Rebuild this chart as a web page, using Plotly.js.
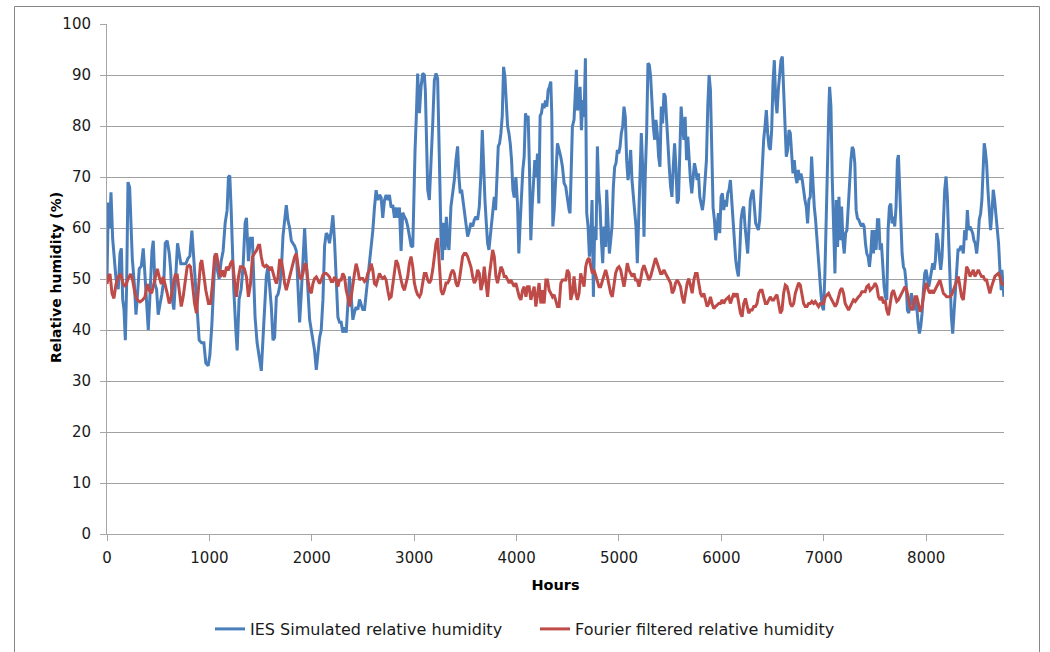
<!DOCTYPE html>
<html>
<head>
<meta charset="utf-8">
<script src="https://cdn.plot.ly/plotly-3.0.1.min.js"></script>
<style>
  html, body { margin: 0; padding: 0; background: #ffffff; }
  #chart { width: 1050px; height: 652px; }
</style>
</head>
<body>
<div id="chart"></div>
<script>
// ---- data (hour, relative humidity %) ----
const seriesNames = ["IES Simulated relative humidity", "Fourier filtered relative humidity"];
const xTickValues = [0, 1000, 2000, 3000, 4000, 5000, 6000, 7000, 8000];
const yTickValues = [0, 10, 20, 30, 40, 50, 60, 70, 80, 90, 100];
const xTitle = "Hours";
const yTitle = "Relative humidity (%)";

const iesSimulatedRH = [
  [0,50],[13,65],[26,60],[39,67],[55,58],[68,54],[88,50],[110,48],[127,55],[140,56],
  [153,46],[166,44],[179,38],[192,49],[205,69],[221,68],[234,60],[247,54],[267,49],[283,43],
  [296,46.5],[315,52],[335,52.5],[354,56],[367,52],[387,46],[403,40],[419,46.5],[439,55.5],[452,57.5],
  [468,49],[484,48],[500,43],[517,45],[536,47],[556,50],[569,57],[588,57.5],[608,55],[621,52],
  [634,46.5],[653,44],[673,50],[689,57],[705,55],[721,53],[744,53],[770,53],[790,54],[809,54.5],
  [829,59.5],[842,56],[858,50],[881,44],[900,38],[923,37.5],[946,37.5],[965,33.5],[988,33],[1004,35],
  [1024,41],[1037,48],[1056,55],[1076,52],[1095,50],[1115,53.5],[1134,55.5],[1154,61],[1173,63.5],[1186,70],
  [1199,70.3],[1212,64],[1225,55.5],[1238,48],[1258,40],[1271,36],[1290,46],[1310,48],[1329,52.5],[1349,61],
  [1362,62],[1381,53.5],[1401,58],[1420,58],[1433,50],[1446,42.5],[1466,37.5],[1491,33.5],[1507,32],[1524,38.5],
  [1540,44.5],[1556,50.5],[1572,52.5],[1589,49],[1605,44.5],[1621,38],[1637,38.5],[1654,46.5],[1670,47],[1686,48.5],
  [1702,51.5],[1719,58.5],[1735,61.5],[1751,64.5],[1767,61.5],[1784,60],[1800,57.5],[1816,57],[1832,56.5],[1849,55.5],
  [1865,48],[1881,41.5],[1897,47],[1914,54.5],[1930,60],[1946,53.5],[1962,46.5],[1979,42],[1995,40],[2011,38],
  [2027,36],[2044,32.2],[2060,35.5],[2076,38.5],[2092,40],[2109,46],[2125,56.5],[2141,59],[2157,58.5],[2173,57],
  [2190,59.5],[2206,62.5],[2222,57.5],[2238,49],[2255,42.5],[2271,41.5],[2287,41.5],[2303,39.5],[2320,40.5],[2336,39.5],
  [2352,44.5],[2368,50.5],[2385,46.5],[2401,42],[2417,43.5],[2433,44.5],[2450,44],[2466,46],[2482,45],[2498,44],
  [2515,44],[2531,47],[2547,50.5],[2563,52.5],[2580,55.5],[2596,59.5],[2612,64],[2628,67.4],[2645,65.5],[2661,66.5],
  [2677,66],[2693,62],[2710,65.5],[2726,66.5],[2742,65.5],[2758,66.5],[2775,64],[2791,64.5],[2807,62],[2823,64],
  [2840,62],[2856,64],[2872,55.5],[2888,63],[2905,62.2],[2921,61.6],[2937,60.3],[2953,58.3],[2970,56.5],[2986,56.3],
  [2995,66],[3008,75],[3021,82],[3034,90.3],[3051,82.5],[3067,87.7],[3083,90.3],[3099,90],[3109,87],[3119,78.5],
  [3132,67.5],[3148,65.5],[3164,72],[3181,80.5],[3197,89],[3213,90.3],[3229,89.3],[3239,80],[3249,69],[3262,58.3],
  [3275,53.7],[3288,61],[3301,55.7],[3314,62.2],[3327,57],[3340,55.7],[3359,64.2],[3376,66.8],[3392,69.4],[3408,73.3],
  [3424,76],[3437,70],[3450,66.8],[3463,67.5],[3476,65.5],[3489,64.2],[3506,61],[3522,58.3],[3538,59.5],[3554,61],
  [3571,60.3],[3587,61.6],[3603,62.2],[3619,61.6],[3636,64.2],[3652,70.7],[3665,79.2],[3678,71.4],[3691,65.5],[3704,61],
  [3717,57],[3730,55.7],[3743,58.3],[3756,62.2],[3769,64.8],[3782,66.1],[3795,63.5],[3808,72],[3821,76],[3834,76.6],
  [3847,78.6],[3860,82],[3873,91.6],[3886,89.7],[3899,85],[3912,80],[3925,78.6],[3938,76.6],[3951,73.3],[3964,67.5],
  [3977,66],[3993,70],[4009,64.8],[4022,55],[4035,61],[4048,66.8],[4061,71.4],[4074,74],[4087,82.5],[4100,81.2],
  [4113,82],[4126,71.4],[4139,57.6],[4152,64.2],[4165,69.4],[4178,73.3],[4191,70],[4204,74.6],[4217,64.8],[4230,82],
  [4243,82.5],[4256,84.4],[4269,83.5],[4282,85],[4295,83.8],[4308,87],[4321,87.7],[4334,88.7],[4344,82],[4354,60.3],
  [4367,63.5],[4383,70],[4399,76.6],[4415,75.3],[4431,74],[4448,72],[4464,68.8],[4480,68.1],[4496,65.5],[4513,63.5],
  [4522,62.9],[4535,72],[4545,79.9],[4561,81.2],[4574,87.1],[4584,91],[4594,83.1],[4607,83.8],[4620,87.7],[4633,79.2],
  [4646,85.1],[4659,81.8],[4672,93.3],[4678,77.3],[4685,62.9],[4698,60.3],[4711,54.4],[4724,57.6],[4737,65.5],[4750,46.5],
  [4763,60.3],[4776,57.6],[4789,76],[4802,67.5],[4815,64.2],[4828,57.6],[4841,53.1],[4854,60.3],[4870,56.3],[4880,67.5],
  [4893,59.6],[4906,55],[4919,57.6],[4932,60.3],[4945,68.1],[4958,72],[4971,72.7],[4984,75.3],[4997,74.6],[5010,75.9],
  [5023,78.6],[5036,79.9],[5049,83.8],[5062,81.8],[5075,73.3],[5088,69.4],[5101,72],[5114,75.3],[5127,69.4],[5140,66.8],
  [5153,62.9],[5166,60.3],[5179,53.1],[5192,61.6],[5205,66.1],[5218,78.6],[5231,72],[5244,58.3],[5257,70.7],[5270,78.6],
  [5283,92.3],[5296,92],[5309,89.7],[5322,83.8],[5335,79.9],[5348,77.3],[5361,81.2],[5374,78.6],[5387,74],[5400,72],
  [5413,83.8],[5426,80.5],[5439,86.4],[5452,85.8],[5465,80.5],[5478,75.3],[5491,72],[5504,68.1],[5517,66.1],[5530,72],
  [5543,76.6],[5556,72],[5569,64.8],[5581,65.5],[5594,73.3],[5607,83.8],[5620,79.9],[5634,77.3],[5646,81.8],[5660,73.3],
  [5672,77.9],[5686,72.7],[5698,69.4],[5711,66.8],[5724,69.4],[5737,72.7],[5750,71.4],[5763,69.4],[5776,70.7],[5789,66.1],
  [5802,64.8],[5815,63.5],[5828,65.5],[5841,70.7],[5854,73.3],[5867,83.8],[5880,90],[5893,87.1],[5906,77.3],[5919,64],
  [5932,61.6],[5945,57.6],[5958,60.3],[5971,62.9],[5984,59],[5997,66.1],[6010,66.8],[6023,63.5],[6036,65.5],[6049,64.2],
  [6062,66.8],[6075,67.5],[6088,69.4],[6101,65.5],[6114,60.3],[6127,56.3],[6140,53.7],[6153,51.8],[6166,50.5],[6179,55],
  [6192,61.6],[6205,63.5],[6218,64.2],[6231,60.3],[6244,57.6],[6257,55],[6270,60.3],[6283,65.5],[6296,66.8],[6309,67.5],
  [6322,64.2],[6335,60.9],[6348,60.3],[6361,59.6],[6374,61.6],[6387,67.5],[6400,74],[6413,77.3],[6426,79.9],[6439,83.1],
  [6452,78.6],[6465,75.9],[6478,75.3],[6491,79.2],[6504,88.4],[6517,92.9],[6530,85.1],[6543,82.5],[6556,87.1],[6569,90.3],
  [6582,92.9],[6595,93.6],[6608,87.7],[6621,80.5],[6634,74],[6647,75.3],[6660,79.2],[6673,78.6],[6686,74],[6699,70.7],
  [6712,73.3],[6725,70.1],[6738,68.8],[6751,71.4],[6764,69.4],[6777,70.7],[6790,69.4],[6803,66.8],[6816,65.5],[6829,64.2],
  [6842,60.9],[6855,65.5],[6868,66.1],[6881,74],[6894,68.1],[6907,64.2],[6920,61.6],[6933,57.6],[6946,54.4],[6959,51.1],
  [6972,47.2],[6985,44.6],[6998,43.9],[7011,51.1],[7024,64.2],[7037,75.3],[7050,83.8],[7057,87.7],[7070,83.8],[7083,69.4],
  [7096,59],[7109,51.1],[7122,65.5],[7135,56.3],[7148,66.1],[7161,57.6],[7174,64.2],[7187,57.6],[7200,55],[7213,59],
  [7226,59.6],[7239,64.2],[7252,70.7],[7265,73.3],[7278,75.9],[7290,75.3],[7303,72.7],[7316,63.5],[7329,61.9],[7342,61.6],
  [7355,60.9],[7368,60.3],[7381,60.9],[7394,60.3],[7407,57],[7420,55],[7433,54.4],[7446,52.4],[7459,55],[7472,59.6],
  [7485,55],[7498,59.6],[7511,55.7],[7524,61.6],[7537,61.6],[7550,55.7],[7563,57],[7576,51.8],[7589,48.5],[7602,46.5],
  [7615,45.9],[7628,59.6],[7641,64.2],[7654,64.8],[7667,60.9],[7680,62.2],[7693,60.3],[7706,64.2],[7719,73.3],[7729,74.3],
  [7739,69.4],[7752,62.9],[7765,55],[7778,52.4],[7791,51.8],[7804,49.2],[7817,43.9],[7830,43.3],[7843,45.2],[7856,47.2],
  [7869,45.2],[7882,43.9],[7895,46.5],[7908,44.6],[7921,41.3],[7934,39.3],[7947,40.7],[7960,43.3],[7973,47.8],[7986,51.1],
  [7999,51.8],[8012,50.5],[8025,48.5],[8038,49.8],[8051,51.8],[8064,53.1],[8077,51.8],[8090,53.7],[8103,59],[8116,57.6],
  [8129,54.4],[8142,51.8],[8155,54.4],[8168,60.9],[8181,67.5],[8194,70.1],[8207,66.1],[8220,57.6],[8233,47.8],[8246,42.6],
  [8259,39.3],[8272,43.9],[8285,48.5],[8298,51.1],[8311,55.7],[8324,55.7],[8337,56.3],[8350,56.3],[8363,55],[8376,59.6],
  [8389,57.6],[8402,63.5],[8415,59.6],[8428,60.3],[8441,59.6],[8454,59],[8466,57.6],[8479,57],[8493,55],[8506,57.6],
  [8518,61.6],[8532,62.9],[8544,65.5],[8558,72.7],[8567,76.6],[8577,75.3],[8590,72.7],[8603,67.5],[8616,62.9],[8629,59.6],
  [8642,62.9],[8655,67.5],[8668,65.5],[8681,62.2],[8694,59.6],[8707,57],[8720,51.8],[8733,47.8],[8740,51.8],[8759,46.5]
];

const fourierFilteredRH = [
  [0,49],[13,50.4],[29,51],[49,47.2],[68,46.2],[88,49],[110,50.4],[133,51],[159,49],[179,48.5],
  [205,50],[231,51],[250,49.8],[273,47.2],[296,45.9],[322,45.5],[348,45.9],[371,46.5],[393,49],[413,47.8],
  [436,47.2],[458,49],[478,51],[491,52],[510,50.4],[530,49],[549,50.4],[569,49],[588,47.2],[608,45.2],
  [627,46.5],[647,49],[666,50.8],[686,50.8],[705,47.8],[725,44.6],[744,46.5],[764,49.8],[783,52.4],[803,52.7],
  [816,52.4],[835,49],[855,45.2],[874,43.3],[894,47.8],[913,53],[926,53.7],[946,50.4],[965,47.8],[991,45.2],
  [1011,45.2],[1030,49],[1050,54.3],[1069,55],[1089,52.4],[1108,50.4],[1128,51.7],[1147,50.4],[1167,52.4],[1186,51.7],
  [1206,53],[1225,53.7],[1245,49.8],[1264,46.5],[1284,50.4],[1303,52.4],[1323,52.4],[1342,52],[1362,50.4],[1381,46.5],
  [1401,49],[1420,54.3],[1440,55],[1459,55.6],[1479,56.6],[1491,56.6],[1507,54.3],[1524,52.7],[1540,52.4],[1556,52.7],
  [1572,52.4],[1589,51.7],[1605,52.4],[1621,51.1],[1637,50.1],[1654,49.1],[1670,50.4],[1686,53.7],[1702,53.7],[1719,51.7],
  [1735,49.1],[1751,47.8],[1767,49.1],[1784,50.4],[1800,51.7],[1816,53],[1832,54.3],[1849,55],[1865,53],[1881,50.4],
  [1897,50.1],[1914,51.1],[1930,53],[1946,52.7],[1962,49.8],[1979,47.8],[1995,47.2],[2011,49.1],[2027,50.1],[2044,50.4],
  [2060,49.8],[2076,49.1],[2092,49.8],[2109,50.8],[2125,51.1],[2141,51.1],[2157,50.8],[2173,50.4],[2190,49.5],[2206,49.5],
  [2222,50.4],[2238,49.8],[2255,48.5],[2271,49.8],[2287,49.8],[2303,51.1],[2320,50.4],[2336,47.8],[2352,46.5],[2368,44.6],
  [2385,46.5],[2401,49.1],[2417,51.1],[2433,53],[2450,51.7],[2466,49.8],[2482,50.1],[2498,50.1],[2515,49.5],[2531,49.8],
  [2547,51.1],[2563,51.7],[2580,53],[2596,51.7],[2612,49.1],[2628,48.8],[2645,49.8],[2661,51.1],[2677,50.4],[2693,50.1],
  [2710,50.4],[2726,49.8],[2742,47.8],[2758,46.2],[2775,46.5],[2791,49.1],[2807,51.7],[2823,53.7],[2840,53],[2856,51.1],
  [2872,49.8],[2888,48.5],[2905,47.8],[2921,49.2],[2937,50.5],[2953,53.1],[2969,54.4],[2986,52.4],[3002,49.2],[3018,47.8],
  [3034,46.9],[3051,46.5],[3067,47.2],[3083,49.2],[3099,51.1],[3116,51.1],[3132,49.8],[3148,49.2],[3164,49.8],[3181,51.8],
  [3197,54.4],[3213,57],[3229,58],[3239,55],[3249,50.5],[3262,47.8],[3278,46.9],[3294,47.8],[3311,49.2],[3327,49.2],
  [3343,49.8],[3359,51.1],[3376,51.8],[3392,51.1],[3408,49.2],[3424,48.5],[3441,49.8],[3457,52.4],[3473,54.4],[3489,55],
  [3506,55],[3522,54.4],[3538,53.4],[3554,52.4],[3571,50.5],[3587,49.2],[3603,49.8],[3619,51.8],[3636,51.1],[3652,47.8],
  [3668,49.2],[3684,52.4],[3701,49.2],[3717,46.5],[3733,50.5],[3749,53.1],[3766,55.7],[3782,54.4],[3798,50.5],[3814,49.2],
  [3830,51.1],[3847,52.4],[3863,51.8],[3879,50.5],[3896,50.5],[3912,49.8],[3928,49.2],[3944,49.8],[3961,49.2],[3977,48.5],
  [3993,49.2],[4009,47.8],[4026,46.5],[4042,45.9],[4058,47.8],[4074,48.5],[4091,46.5],[4107,48.5],[4123,48.5],[4139,45.9],
  [4156,47.2],[4172,48.5],[4188,44.6],[4204,46.5],[4220,49.2],[4237,45.2],[4253,47.8],[4269,45.2],[4286,49.8],[4302,49.8],
  [4318,47.8],[4334,47.2],[4351,46.5],[4367,46.9],[4383,45.9],[4399,44.6],[4415,44.6],[4432,49.2],[4448,49.8],[4464,49.8],
  [4480,49.8],[4496,51.8],[4513,51.1],[4529,45.9],[4545,47.2],[4561,50.5],[4578,47.2],[4594,45.9],[4610,47.2],[4626,51.1],
  [4643,49.8],[4659,48.5],[4675,52.4],[4691,53.7],[4708,54.1],[4724,52.4],[4740,51.1],[4756,51.8],[4773,50.5],[4789,49.8],
  [4805,48.5],[4821,48.5],[4838,49.8],[4854,51.1],[4870,51.8],[4886,50.5],[4903,48.5],[4919,47.2],[4935,46.5],[4951,48.5],
  [4967,51.1],[4984,52.1],[5000,52.4],[5016,51.8],[5032,49.8],[5049,48.5],[5065,50.5],[5081,53.1],[5097,51.8],[5114,51.1],
  [5130,50.5],[5146,51.1],[5162,49.8],[5179,49.8],[5195,48.5],[5211,49.8],[5227,51.8],[5244,52.7],[5260,51.8],[5276,51.1],
  [5292,49.8],[5309,50.5],[5325,51.8],[5341,53.1],[5357,54.1],[5374,53.1],[5390,51.8],[5406,51.1],[5422,51.1],[5439,51.8],
  [5455,51.1],[5471,50.5],[5487,50.1],[5504,49.2],[5520,47.2],[5536,47.8],[5552,49.2],[5569,49.8],[5585,49.2],[5601,48.5],
  [5617,46.5],[5634,45.2],[5650,47.2],[5666,49.2],[5682,50.1],[5698,48.5],[5715,47.2],[5731,49.8],[5747,51.1],[5763,51.1],
  [5780,49.2],[5796,47.2],[5812,46.5],[5828,47.2],[5845,45.9],[5861,44.6],[5877,45.2],[5893,46.5],[5909,45.2],[5926,44.2],
  [5942,44.6],[5958,44.9],[5975,45.2],[5991,45.2],[6007,45.9],[6023,45.2],[6040,45.9],[6056,46.2],[6072,46.5],[6088,45.2],
  [6105,46.5],[6121,47.2],[6137,46.5],[6153,47.2],[6170,45.2],[6186,43.3],[6202,42.6],[6218,45.2],[6235,46.2],[6251,44.6],
  [6267,43.3],[6283,43.9],[6300,43.9],[6316,44.6],[6332,44.6],[6348,45.2],[6365,47.2],[6381,47.8],[6397,47.8],[6413,46.5],
  [6430,45.2],[6446,45.2],[6462,45.9],[6478,46.5],[6495,45.9],[6511,45.9],[6527,46.5],[6543,46.9],[6559,45.2],[6576,43.3],
  [6592,43.9],[6608,47.2],[6624,48.8],[6641,48.5],[6657,47.2],[6673,45.2],[6689,44.6],[6706,45.2],[6722,47.2],[6738,48.5],
  [6754,49.2],[6771,48.8],[6787,47.2],[6803,45.2],[6819,44.6],[6836,44.6],[6852,45.2],[6868,45.2],[6884,45.6],[6901,45.2],
  [6917,45.6],[6933,45.2],[6949,44.6],[6966,45.2],[6982,45.2],[6998,45.2],[7014,46.5],[7031,46.9],[7047,47.2],[7063,46.5],
  [7079,45.9],[7096,45.2],[7112,44.6],[7128,45.2],[7144,46.5],[7161,47.8],[7177,48.2],[7193,47.2],[7209,45.2],[7226,44.6],
  [7242,43.9],[7258,44.6],[7274,45.2],[7290,45.9],[7307,45.6],[7323,46.2],[7339,46.5],[7355,46.8],[7372,47.5],[7388,47.5],
  [7404,47.5],[7420,48.5],[7437,48.8],[7453,47.8],[7469,48.2],[7485,48.5],[7502,49.2],[7518,48.5],[7534,46.5],[7550,45.9],
  [7567,46.5],[7583,45.2],[7599,45.9],[7615,43.9],[7632,42.9],[7648,45.2],[7664,47.2],[7680,47.8],[7697,46.5],[7713,45.6],
  [7729,45.9],[7745,46.5],[7761,47.2],[7778,47.8],[7794,48.5],[7810,47.8],[7826,45.9],[7843,44.6],[7859,43.9],[7875,44.6],
  [7891,46.5],[7908,46.5],[7924,45.2],[7940,43.6],[7956,44.2],[7973,46.5],[7989,48.5],[8005,49.2],[8021,47.8],[8038,47.2],
  [8054,47.8],[8070,47.2],[8086,47.8],[8103,48.5],[8119,49.2],[8135,49.8],[8151,48.5],[8168,47.2],[8184,46.9],[8200,46.5],
  [8216,46.5],[8233,46.5],[8249,46.9],[8265,47.8],[8281,48.5],[8298,49.8],[8314,50.5],[8330,48.5],[8346,46.5],[8363,45.9],
  [8379,49.2],[8395,52.4],[8411,51.8],[8428,50.5],[8444,51.1],[8460,51.8],[8476,50.5],[8493,51.1],[8509,51.8],[8525,51.1],
  [8541,50.5],[8558,50.5],[8574,49.8],[8590,49.8],[8606,48.5],[8622,47.2],[8639,48.5],[8655,49.8],[8671,50.5],[8687,50.8],
  [8704,51.1],[8720,50.5],[8736,49.2],[8759,48.8]
];

const seriesColors = ["#4a7ebb", "#be4b48"];

// ---- chart ----
const W = 1050, H = 652;
const M = {l: 107, r: 46, t: 24, b: 118, autoexpand: false};
const pw = W - M.l - M.r, ph = H - M.t - M.b;
const px = v => (v - M.l) / pw;          // page px -> paper x
const py = v => (H - M.b - v) / ph;      // page px -> paper y

const traces = [iesSimulatedRH, fourierFilteredRH].map((s, i) => ({
  type: "scatter",
  mode: "lines",
  name: seriesNames[i],
  x: s.map(p => p[0]),
  y: s.map(p => p[1]),
  line: {color: seriesColors[i], width: 3},
  hoverinfo: "x+y"
}));

const font = "DejaVu Sans, Verdana, sans-serif";
const layout = {
  width: W, height: H,
  margin: M,
  paper_bgcolor: "#ffffff",
  plot_bgcolor: "#ffffff",
  showlegend: true,
  font: {family: font, size: 15, color: "#1a1a1a"},
  xaxis: {
    range: [0, 8760],
    tickvals: xTickValues,
    ticktext: xTickValues.map(String),
    ticks: "outside", ticklen: 6, tickcolor: "#a6a6a6", tickwidth: 1,
    showline: true, linecolor: "#a6a6a6", linewidth: 1,
    showgrid: false, zeroline: false,
    tickfont: {family: font, size: 15, color: "#1a1a1a"},
    ticklabelstandoff: 4,
    title: {text: "<b>" + xTitle + "</b>", font: {family: font, size: 14.5, color: "#000"}, standoff: 13},
    automargin: false
  },
  yaxis: {
    range: [0, 100],
    tickvals: yTickValues,
    ticktext: yTickValues.map(String),
    ticks: "outside", ticklen: 6, tickcolor: "#a6a6a6", tickwidth: 1,
    showline: true, linecolor: "#a6a6a6", linewidth: 1,
    showgrid: true, gridcolor: "#a0a0a0", gridwidth: 1,
    zeroline: false,
    tickfont: {family: font, size: 15, color: "#1a1a1a"},
    ticklabelstandoff: 6,
    automargin: false
  },
  annotations: [{
    text: "<b>" + yTitle + "</b>",
    xref: "paper", yref: "paper",
    x: px(56), y: py(278), xanchor: "center", yanchor: "middle",
    textangle: -90, showarrow: false,
    font: {family: font, size: 14, color: "#000"}
  }],
  legend: {
    orientation: "h",
    x: px(535), xanchor: "center",
    y: py(629), yanchor: "middle",
    font: {family: font, size: 16, color: "#1a1a1a"},
    itemwidth: 30,
    entrywidth: 280,
    bgcolor: "rgba(0,0,0,0)",
    traceorder: "normal"
  },
  shapes: [{
    type: "rect", xref: "paper", yref: "paper",
    x0: px(14.5), x1: px(1039.5), y0: py(670), y1: py(6.5),
    line: {color: "#868686", width: 1}, fillcolor: "rgba(0,0,0,0)", layer: "below"
  }]
};

Plotly.newPlot("chart", traces, layout, {displayModeBar: false, staticPlot: true});
</script>
</body>
</html>
